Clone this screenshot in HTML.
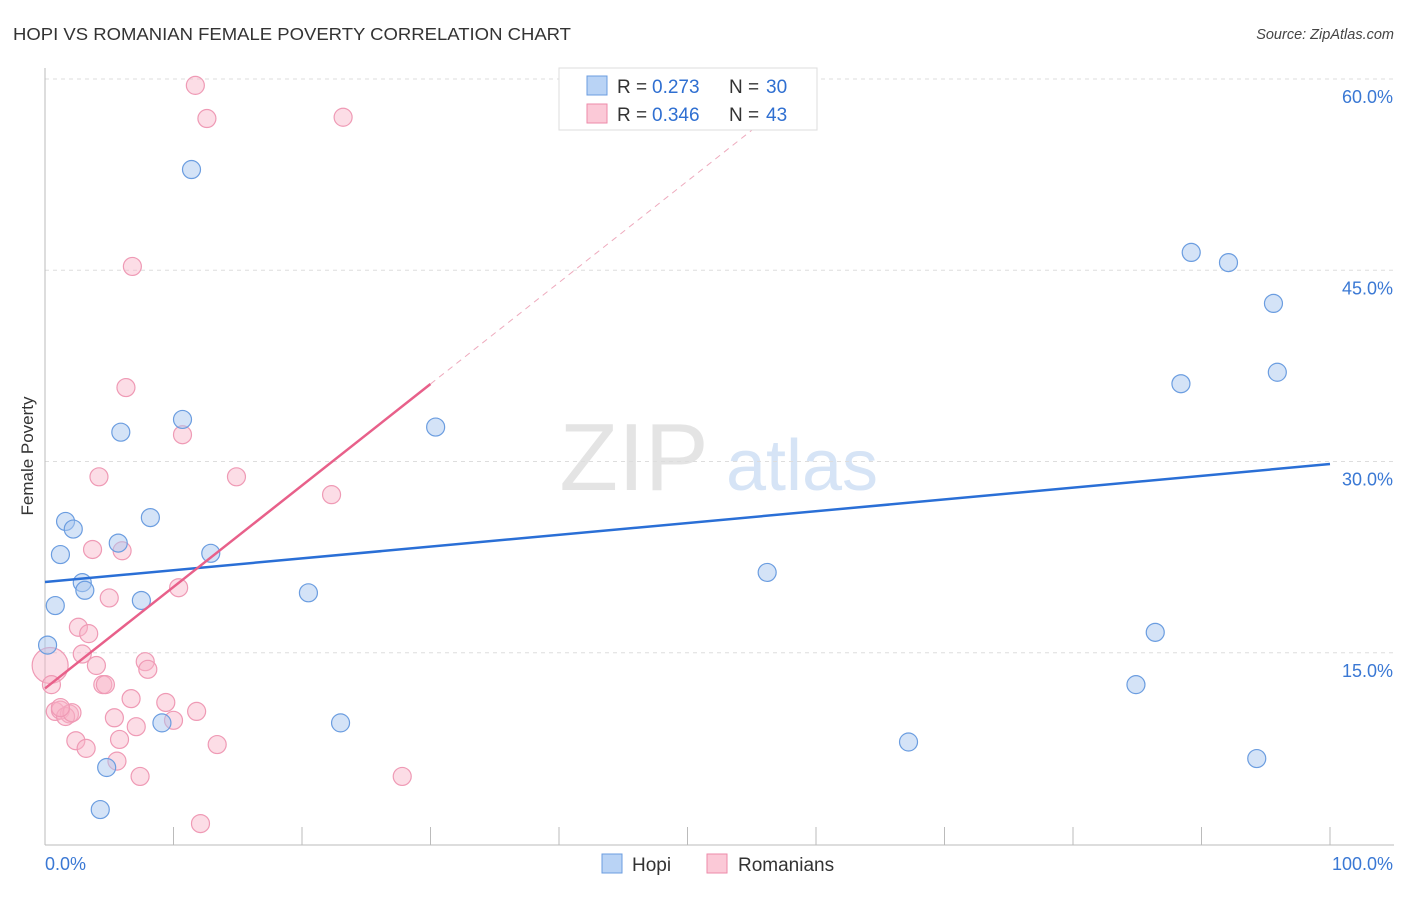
<!DOCTYPE html>
<html><head><meta charset="utf-8"><style>
body{margin:0;background:#fff;font-family:"Liberation Sans",sans-serif;}
svg text{font-family:"Liberation Sans",sans-serif;}
</style></head><body>
<svg id="chart" width="1406" height="892" xmlns="http://www.w3.org/2000/svg">
<text x="13" y="40" font-size="17.5" fill="#333" textLength="558" lengthAdjust="spacingAndGlyphs">HOPI VS ROMANIAN FEMALE POVERTY CORRELATION CHART</text>
<text x="1394" y="39" font-size="14.5" fill="#444" font-style="italic" text-anchor="end">Source: ZipAtlas.com</text>
<g>
<text x="634" y="490" font-size="96" fill="#e4e4e4" font-family="Liberation Serif" text-anchor="middle">ZIP</text>
<text x="802" y="490" font-size="72" fill="#d6e4f6" text-anchor="middle">atlas</text>
</g>
<g id="grid"></g><g id="axes"></g><g id="marks"></g><g id="lines"></g>
<text transform="translate(33,456) rotate(-90)" font-size="17" fill="#333" text-anchor="middle">Female Poverty</text>
<g>
<rect x="559" y="68" width="258" height="62" fill="#fff" stroke="#ddd"/>
<rect x="587" y="76" width="20" height="19" fill="#b9d3f5" stroke="#6b9de0"/>
<text x="617" y="93" font-size="19" fill="#333">R =</text>
<text x="652" y="93" font-size="19" fill="#2f6fd1">0.273</text>
<text x="729" y="93" font-size="19" fill="#333">N =</text>
<text x="766" y="93" font-size="19" fill="#2f6fd1">30</text>
<rect x="587" y="104" width="20" height="19" fill="#fbc9d7" stroke="#ee8aaa"/>
<text x="617" y="121" font-size="19" fill="#333">R =</text>
<text x="652" y="121" font-size="19" fill="#2f6fd1">0.346</text>
<text x="729" y="121" font-size="19" fill="#333">N =</text>
<text x="766" y="121" font-size="19" fill="#2f6fd1">43</text>
</g>
<g>
<rect x="602" y="854" width="20" height="19" fill="#b9d3f5" stroke="#6b9de0"/>
<text x="632" y="871" font-size="19" fill="#333">Hopi</text>
<rect x="707" y="854" width="20" height="19" fill="#fbc9d7" stroke="#ee8aaa"/>
<text x="738" y="871" font-size="19" fill="#333">Romanians</text>
</g>
</svg>
<script>
const yTicks=[15,30,45,60];
const yTickLabels=["15.0%","30.0%","45.0%","60.0%"];
const xTicks=[0,10,20,30,40,50,60,70,80,90,100];
const hopiX=[11.4,89.2,92.1,95.6,88.4,95.9,10.7,5.9,30.4,1.6,2.2,8.2,5.7,1.2,12.9,2.9,3.1,0.8,7.5,0.2,56.2,20.5,86.4,84.9,23.0,9.1,67.2,4.8,94.3,4.3];
const hopiY=[52.9,46.4,45.6,42.4,36.1,37.0,33.3,32.3,32.7,25.3,24.7,25.6,23.6,22.7,22.8,20.5,19.9,18.7,19.1,15.6,21.3,19.7,16.6,12.5,9.5,9.5,8.0,6.0,6.7,2.7];
const romX=[11.7,12.6,23.2,6.8,6.3,10.7,14.9,4.2,22.3,3.7,6.0,10.4,5.0,2.6,3.4,2.9,4.0,7.8,8.0,0.4,0.5,4.5,4.7,6.7,9.4,11.8,0.8,1.2,1.9,1.6,2.1,5.4,10.0,7.1,5.8,2.4,3.2,13.4,5.6,7.4,27.8,12.1,1.2];
const romY=[59.5,56.9,57.0,45.3,35.8,32.1,28.8,28.8,27.4,23.1,23.0,20.1,19.3,17.0,16.5,14.9,14.0,14.3,13.7,14.0,12.5,12.5,12.5,11.4,11.1,10.4,10.4,10.5,10.2,10.0,10.3,9.9,9.7,9.2,8.2,8.1,7.5,7.8,6.5,5.3,5.3,1.6,10.7];
const hopiTrend=[20.55,29.8];
const romTrend=[12.2,0.796];
const NS="http://www.w3.org/2000/svg";
const sx=v=>45+v*12.85, sy=v=>844-v*12.75;
function mk(p,t,a){const e=document.createElementNS(NS,t);for(const k in a)e.setAttribute(k,a[k]);document.getElementById(p).appendChild(e);return e;}
yTicks.forEach((t,i)=>{
 const g=mk('grid','line',{x1:45,x2:1394,y1:sy(t),y2:sy(t),stroke:'#ddd','stroke-dasharray':'4,4'});
 
 
 const l=mk('axes','text',{x:1393,y:sy(t)+24,'font-size':18,fill:'#3a78d4','text-anchor':'end'});
 l.textContent=yTickLabels[i];
 
 
});
const tg=mk('grid','line',{x1:45,x2:1394,y1:79,y2:79,stroke:'#ddd','stroke-dasharray':'4,4'});


const ax=mk('axes','line',{x1:45,x2:1394,y1:845,y2:845,stroke:'#bbb'});


const ay=mk('axes','line',{x1:45,x2:45,y1:68,y2:845,stroke:'#bbb'});


xTicks.forEach(t=>{
 const k=mk('axes','line',{x1:sx(t),x2:sx(t),y1:827,y2:845,stroke:'#bbb'});
 
 
});
const x0=mk('axes','text',{x:45,y:870,'font-size':18,fill:'#3a78d4'});x0.textContent='0.0%';


const x1=mk('axes','text',{x:1393,y:870,'font-size':18,fill:'#3a78d4','text-anchor':'end'});x1.textContent='100.0%';


romX.forEach((x,i)=>{
 const big=(i===19);
 const c=mk('marks','circle',{cx:sx(x),cy:sy(romY[i]),r:big?18:9,fill:'rgba(248,180,200,0.45)',stroke:'#ef9ab5','stroke-width':1.2});
 
 
});
hopiX.forEach((x,i)=>{
 const c=mk('marks','circle',{cx:sx(x),cy:sy(hopiY[i]),r:9,fill:'rgba(170,200,240,0.5)',stroke:'#6b9de0','stroke-width':1.2});
 
 
});
const bl=mk('lines','line',{x1:sx(0),y1:sy(hopiTrend[0]),x2:sx(100),y2:sy(hopiTrend[1]),stroke:'#2a6fd6','stroke-width':2.5});


const pl=mk('lines','line',{x1:sx(0),y1:sy(romTrend[0]),x2:sx(30),y2:sy(romTrend[0]+romTrend[1]*30),stroke:'#e8608a','stroke-width':2.5});


const pd=mk('lines','line',{x1:sx(30),y1:sy(romTrend[0]+romTrend[1]*30),x2:sx(59.5),y2:sy(romTrend[0]+romTrend[1]*59.5),stroke:'#eeaabd','stroke-width':1,'stroke-dasharray':'6,5'});


</script>
</body></html>
